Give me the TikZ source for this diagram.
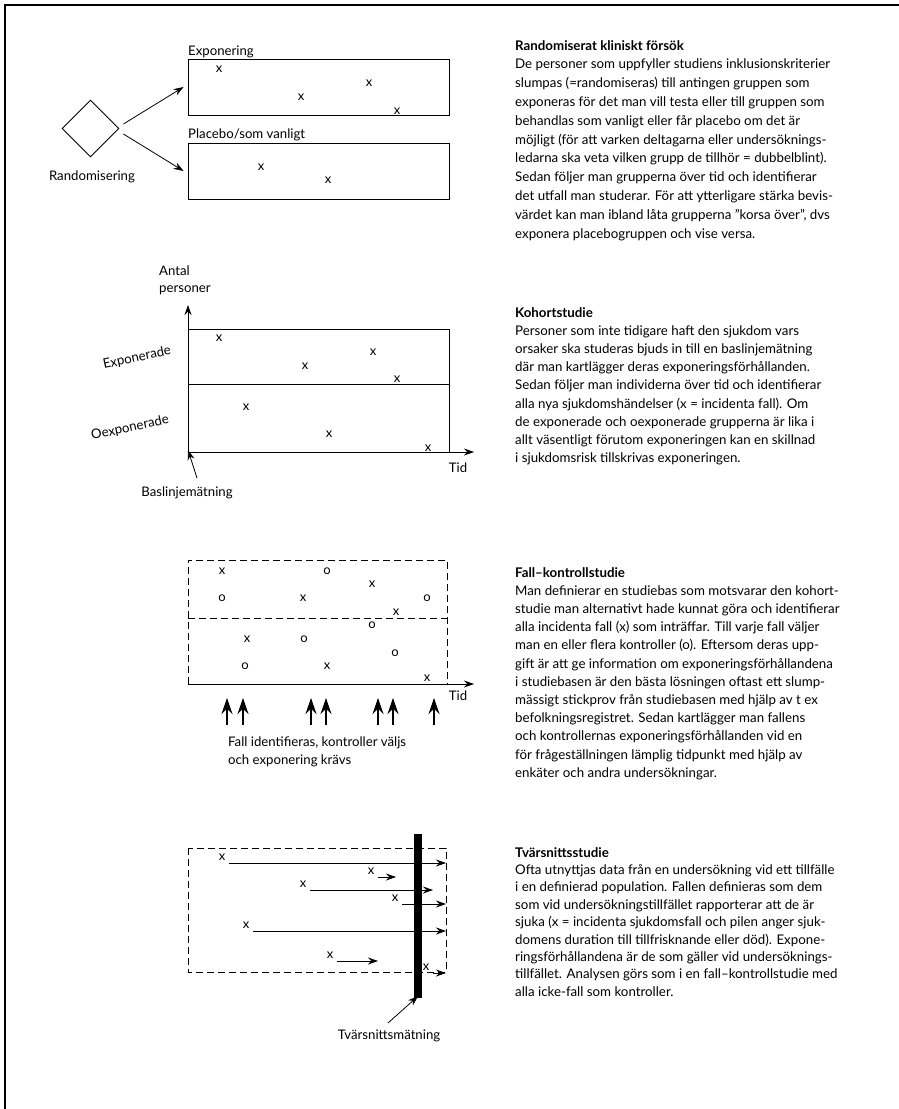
\documentclass[tikz,border=0pt]{standalone}
\usepackage{fontspec}
\setmainfont{Lato}
\usetikzlibrary{arrows.meta}
\usetikzlibrary{shapes.geometric}

\tikzset{
  lbl/.style={inner sep=0pt,font=\fontsize{13.2}{17.4}\selectfont},
  pnt/.style={inner sep=0pt,font=\fontsize{13}{13}\selectfont},
  grpbox/.style={draw,line width=0.9pt,inner sep=0pt},
  dashbox/.style={line width=0.9pt,dash pattern=on 7pt off 4pt},
  arr/.style={-{Stealth[length=10pt,width=7pt]},line width=0.8pt},
  bigarr/.style={-{Stealth[length=16pt,width=11pt]},line width=1.1pt},
  bodytext/.style={anchor=north west,align=left,inner sep=0pt,
    font=\fontsize{13.3}{18.2}\selectfont},
}

\begin{document}
\begin{tikzpicture}[x=1pt,y=-1pt]
  \useasboundingbox (0,0) rectangle (899,1109);
  % frame
  \draw[line width=1.4pt] (5,1109) -- (5,5) -- (899,5);

  % --- randomiserat
  \node[draw,diamond,line width=0.9pt,minimum width=57pt,minimum height=57pt,
    inner sep=0pt] (rand) at (90.5,128.5) {};
  \node[lbl] (randlbl) at (92,177) {Randomisering};
  \node[grpbox,minimum width=261pt,minimum height=56pt] (expbox) at (318.5,87) {};
  \node[grpbox,minimum width=261pt,minimum height=56pt] (plabox) at (318.5,171) {};
  \node[lbl,anchor=base west] (explbl) at (188,55) {Exponering};
  \node[lbl,anchor=base west] (plalbl) at (188,138) {Placebo/som vanligt};
  \draw[arr] ([shift={(4,-4.5)}]rand.east) -- ([xshift=-4pt]expbox.west);
  \draw[arr] ([shift={(4,5.5)}]rand.east) -- ([xshift=-4pt]plabox.west);
  \foreach \px/\py [count=\i] in {219/69,301/97,369/83,397/111,261/167,328/180}
    \node[pnt] (r\i) at (\px,\py) {x};

  % --- kohort
  \coordinate (orig) at (188,452);
  \coordinate (ytop) at (188,305);
  \coordinate (xend) at (474,452);
  \draw[line width=0.9pt] (188,329) rectangle (449,452);
  \draw[line width=0.9pt] (188,384) -- (449,384);
  \draw[arr] (orig) -- (ytop);
  \draw[arr] (orig) -- (xend);
  \node[lbl,anchor=west,align=left] (ylbl) at (159,280) {Antal\\personer};
  \node[lbl] (tid1) at (458,468) {Tid};
  \node[lbl,rotate=12] (explbl2) at (137,358) {Exponerade};
  \node[lbl,rotate=12] (oexplbl) at (130,428) {Oexponerade};
  \node[lbl] (bas) at (187,493) {Baslinjemätning};
  \coordinate (bas0) at (197,478);
  \draw[arr] (bas0) -- ([yshift=2pt]orig);
  \foreach \px/\py [count=\i] in {219/338,305/366,373/352,397/379,246/407,329/434,428/448}
    \node[pnt] (k\i) at (\px,\py) {x};

  % --- fall-kontroll
  \draw[dashbox] (188,684) -- (188,560) -- (447,560) -- (447,684);
  \draw[dashbox] (188,618) -- (447,618);
  \coordinate (orig2) at (188,684);
  \coordinate (xend2) at (474,684);
  \draw[arr] (orig2) -- (xend2);
  \node[lbl] (tid2) at (458,696) {Tid};
  \foreach \px/\py [count=\i] in {222/571,303/598,372/584,396/612,247/639,327/666,427/678}
    \node[pnt] (fx\i) at (\px,\py) {x};
  \foreach \px/\py [count=\i] in {222/598,327/571,427/598,372/625,304/639,395/653,245/666}
    \node[pnt] (fo\i) at (\px,\py) {o};
  \foreach \ux [count=\i] in {227,243,311,326,378,393,434} {
    \coordinate (u\i) at (\ux,725);
    \coordinate (v\i) at (\ux,698);
    \draw[bigarr] (u\i) -- (v\i);
  }
  \node[lbl,anchor=west,align=left] (falllbl) at (228,752)
    {Fall identifieras, kontroller väljs\\och exponering krävs};

  % --- tvarsnitt
  \draw[dashbox] (188,848) rectangle (446,972);
  \foreach \px/\py/\ex [count=\i] in {222/857/446,371/871/396,303/884/433,395/898/446,
      246/925/446,330/955/378,426/967/446} {
    \node[pnt] (t\i) at (\px,\py) {x};
    \coordinate (e\i) at (\ex,\py+6);
    \draw[arr] ([shift={(7,6)}]t\i.center) -- (e\i);
  }
  \node[fill=black,inner sep=0pt,minimum width=8pt,minimum height=164pt] (bar) at (418,916) {};
  \node[lbl] (tvlbl) at (389,1036) {Tvärsnittsmätning};
  \coordinate (tv0) at (388,1023);
  \draw[arr] (tv0) -- ([yshift=2pt]bar.south);

  % --- texts
  \node[bodytext,font=\fontsize{13.3}{18.8}\selectfont] (txt1) at (515,40)
    {\textbf{Randomiserat kliniskt försök}\\
    De personer som uppfyller studiens inklusionskriterier\\
    slumpas (=randomiseras) till antingen gruppen som\\
    exponeras för det man vill testa eller till gruppen som\\
    behandlas som vanligt eller får placebo om det är\\
    möjligt (för att varken deltagarna eller undersöknings-\\
    ledarna ska veta vilken grupp de tillhör = dubbelblint).\\
    Sedan följer man grupperna över tid och identifierar\\
    det utfall man studerar. För att ytterligare stärka bevis-\\
    värdet kan man ibland låta grupperna ”korsa över”, dvs\\
    exponera placebogruppen och vise versa.};
  \node[bodytext] (txt2) at (515,307) {\textbf{Kohortstudie}\\
    Personer som inte tidigare haft den sjukdom vars\\
    orsaker ska studeras bjuds in till en baslinjemätning\\
    där man kartlägger deras exponeringsförhållanden.\\
    Sedan följer man individerna över tid och identifierar\\
    alla nya sjukdomshändelser (x = incidenta fall). Om\\
    de exponerade och oexponerade grupperna är lika i\\
    allt väsentligt förutom exponeringen kan en skillnad\\
    i sjukdomsrisk tillskrivas exponeringen.};
  \node[bodytext] (txt3) at (515,567) {\textbf{Fall–kontrollstudie}\\
    Man definierar en studiebas som motsvarar den kohort-\\
    studie man alternativt hade kunnat göra och identifierar\\
    alla incidenta fall (x) som inträffar. Till varje fall väljer\\
    man en eller flera kontroller (o). Eftersom deras upp-\\
    gift är att ge information om exponeringsförhållandena\\
    i studiebasen är den bästa lösningen oftast ett slump-\\
    mässigt stickprov från studiebasen med hjälp av t ex\\
    befolkningsregistret. Sedan kartlägger man fallens\\
    och kontrollernas exponeringsförhållanden vid en\\
    för frågeställningen lämplig tidpunkt med hjälp av\\
    enkäter och andra undersökningar.};
  \node[bodytext,font=\fontsize{13.3}{17.4}\selectfont] (txt4) at (515,847)
    {\textbf{Tvärsnittsstudie}\\
    Ofta utnyttjas data från en undersökning vid ett tillfälle\\
    i en definierad population. Fallen definieras som dem\\
    som vid undersökningstillfället rapporterar att de är\\
    sjuka (x = incidenta sjukdomsfall och pilen anger sjuk-\\
    domens duration till tillfrisknande eller död). Expone-\\
    ringsförhållandena är de som gäller vid undersöknings-\\
    tillfället. Analysen görs som i en fall–kontrollstudie med\\
    alla icke-fall som kontroller.};
\end{tikzpicture}
\end{document}
